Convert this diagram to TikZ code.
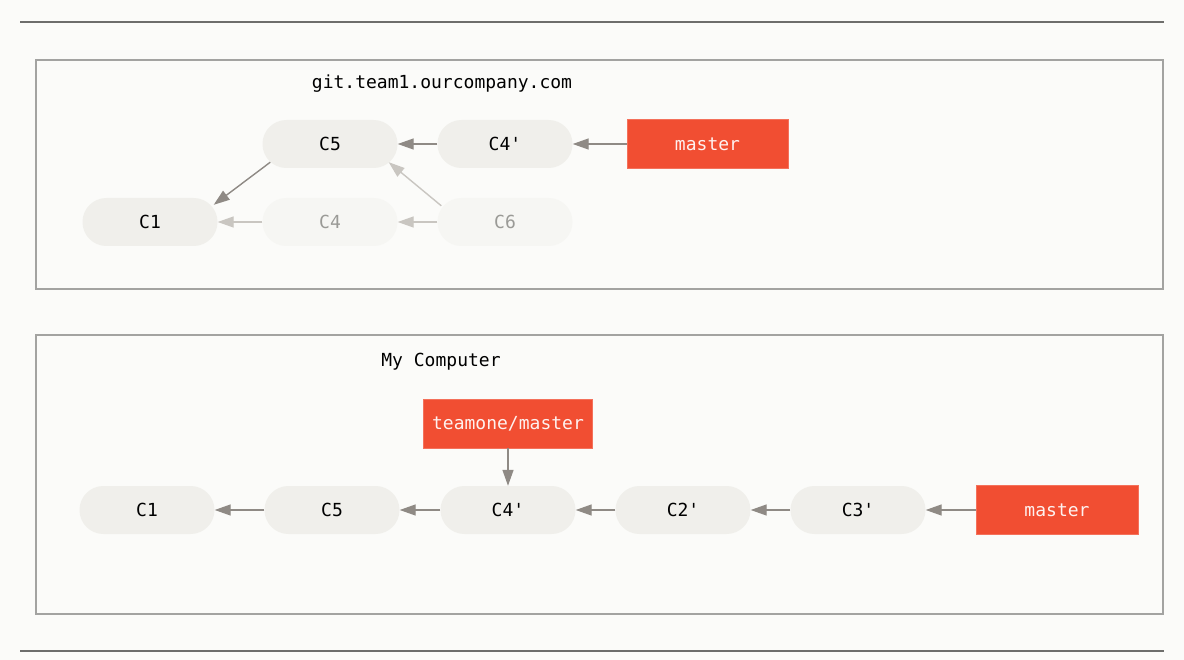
\documentclass[tikz,border=0pt]{standalone}
\usepackage{fontspec}
\setmonofont{DejaVu Sans Mono}
\usetikzlibrary{arrows.meta,calc}
\definecolor{bg}{HTML}{FBFBF9}
\definecolor{commitfill}{HTML}{F0EFEB}
\definecolor{fadefill}{HTML}{F6F6F3}
\definecolor{fadetext}{HTML}{9A9A96}
\definecolor{arrowgray}{HTML}{8F8A85}
\definecolor{fadearrow}{HTML}{C9C6C1}
\definecolor{gitred}{HTML}{F14E32}
\definecolor{framegray}{HTML}{A3A3A1}
\definecolor{rulegray}{HTML}{6E6E6C}
\tikzset{
  commit/.style={rectangle, rounded corners=23.9pt, fill=commitfill, minimum width=135pt, minimum height=48pt, inner sep=0pt, font=\ttfamily\fontsize{18}{21}\selectfont, text=black},
  fadecommit/.style={commit, fill=fadefill, text=fadetext},
  branch/.style={rectangle, fill=gitred, draw=gitred!80!white, minimum height=49pt, inner sep=0pt, font=\ttfamily\fontsize{18}{21}\selectfont, text=white!92!gitred},
  link/.style={draw=arrowgray, line width=1.4pt, -{Triangle[length=16pt,width=11pt]}},
  fadelink/.style={link, draw=fadearrow},
  frame/.style={draw=framegray, line width=1.2pt},
  title/.style={font=\ttfamily\fontsize{18}{21}\selectfont, text=black}
}
\begin{document}
\begin{tikzpicture}[x=1pt,y=-1pt]
\fill[bg] (0,0) rectangle (1184,660);
\useasboundingbox (0,0) rectangle (1184,660);
\draw[rulegray, line width=1.2pt] (20,22) -- (1164,22);
\draw[rulegray, line width=1.2pt] (20,651) -- (1164,651);
\draw[frame] (36,60) rectangle (1163,289);
\draw[frame] (36,335) rectangle (1163,614);

% top
\node[title] (t1) at (442,84) {git.team1.ourcompany.com};
\node[commit] (a5) at (330,144) {C5};
\node[commit] (a4p) at (505,144) {C4'};
\node[branch, minimum width=161pt] (am) at (707.5,144) {master};
\node[commit] (a1) at (150,222) {C1};
\node[fadecommit] (a4) at (330,222) {C4};
\node[fadecommit] (a6) at (505,222) {C6};
\draw[link] (a4p.west) -- (a5.east);
\draw[link] (am.west) -- (a4p.east);
\draw[link] ($(a5.south west)+(8,-6)$) -- ($(a1.north east)+(-4,7)$);
\draw[fadelink] (a4.west) -- (a1.east);
\draw[fadelink] (a6.west) -- (a4.east);
\draw[fadelink] ($(a6.north west)+(4,8)$) -- ($(a5.south east)+(-9,-6)$);

% bottom
\node[title] (t2) at (441,362) {My Computer};
\node[commit] (b1) at (147,510) {C1};
\node[commit] (b5) at (332,510) {C5};
\node[commit] (b4p) at (508,510) {C4'};
\node[commit] (b2p) at (683,510) {C2'};
\node[commit] (b3p) at (858,510) {C3'};
\node[branch, minimum width=169pt] (bt) at (508,423.5) {teamone/master};
\node[branch, minimum width=162pt] (bm) at (1057,510) {master};
\draw[link] (b5.west) -- (b1.east);
\draw[link] (b4p.west) -- (b5.east);
\draw[link] (b2p.west) -- (b4p.east);
\draw[link] (b3p.west) -- (b2p.east);
\draw[link] (bm.west) -- (b3p.east);
\draw[link] (bt.south) -- (b4p.north);
\end{tikzpicture}
\end{document}
